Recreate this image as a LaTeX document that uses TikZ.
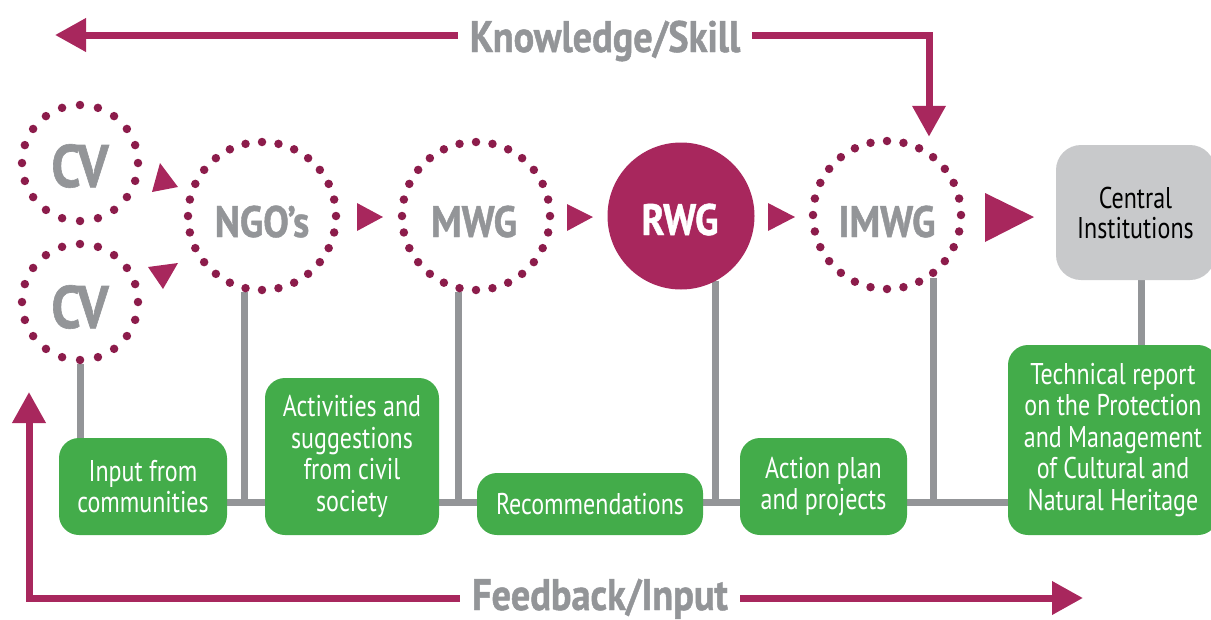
\documentclass[tikz,border=0pt]{standalone}
\usepackage{fontspec}
\setmainfont{PT Sans}[FakeStretch=0.8]
\newfontfamily\labfont{PT Sans}[FakeStretch=0.87,BoldFeatures={FakeBold=1}]
\usetikzlibrary{arrows.meta,backgrounds,calc}
\definecolor{mag}{RGB}{168,39,93}
\definecolor{dotc}{RGB}{140,28,75}
\definecolor{gtext}{RGB}{147,149,152}
\definecolor{grn}{RGB}{67,172,74}
\definecolor{lgray}{RGB}{200,201,203}
\begin{document}
\begin{tikzpicture}[x=1pt,y=-1pt,
 ring/.style={circle,minimum size=148pt,inner sep=0pt,draw=dotc,line width=8.5pt,line cap=round,dash pattern=on 0pt off 16.606pt},
 smallring/.style={ring,minimum size=116pt,dash pattern=on 0pt off 18.22pt},
 biglab/.style={font=\labfont\bfseries\fontsize{44}{44}\selectfont,text=gtext,anchor=base,inner sep=0pt},
 cvlab/.style={biglab,font=\labfont\bfseries\fontsize{60}{60}\selectfont},
 gbox/.style={fill=grn,rounded corners=20pt,text=white,align=center,font=\fontsize{30}{31.5}\selectfont,inner sep=0pt},
 bus/.style={draw=gtext,line width=7pt},
 magline/.style={draw=mag,line width=7pt},
 tip/.style={-{Triangle[length=31pt,width=32pt]}},
 tri/.style={fill=mag}]
\useasboundingbox (0,0) rectangle (1211,619);
% circles
\node[smallring] (cv1) at (80,163) {};
\node[smallring] (cv2) at (80,302) {};
\node[ring] (ngo) at (262,216) {};
\node[ring] (mwg) at (476,216) {};
\node[circle,fill=mag,minimum size=147pt,inner sep=0pt] (rwg) at (681,216) {};
\node[ring] (imwg) at (887,215) {};
\node[fill=lgray,rounded corners=25pt,minimum width=159pt,minimum height=135pt,inner sep=0pt,align=center,font=\fontsize{30}{30}\selectfont] (cent) at (1135.5,212.5) {Central\\Institutions};
% labels
\node[cvlab] (cv1t) at (80,187) {CV};
\node[cvlab] (cv2t) at (80,328) {CV};
\node[biglab] (ngot) at (262,237) {NGO’s};
\node[biglab] (mwgt) at (474,237) {MWG};
\node[biglab,text=white] (rwgt) at (680,235) {RWG};
\node[biglab] (imwgt) at (887,237) {IMWG};
% green boxes
\node[gbox,minimum width=168pt,minimum height=97pt] (inp) at (143,486.5) {Input from\\communities};
\node[gbox,minimum width=174pt,minimum height=157pt] (act) at (352,456.5) {Activities and\\suggestions\\from civil\\society};
\node[gbox,minimum width=226pt,minimum height=62pt] (rec) at (590,504) {Recommendations};
\node[gbox,minimum width=167pt,minimum height=97pt] (act2) at (823.5,486.5) {Action plan\\and projects};
\node[gbox,minimum width=210pt,minimum height=190pt] (tech) at (1113,440) {Technical report\\on the Protection\\and Management\\of Cultural and\\Natural Heritage};
% gray connectors
\coordinate (busy) at (0,502);
\begin{scope}[on background layer]
\draw[bus] (inp.center |- busy) -- (tech.center |- busy);
\draw[bus] (cv2.south) -- (cv2.south |- inp.north);
\draw[bus] (ngo.-103) -- (ngo.-103 |- busy);
\draw[bus] (mwg.-103) -- (mwg.-103 |- busy);
\draw[bus] (rwg.-62) -- (rwg.-62 |- busy);
\draw[bus] (imwg.-54) -- (imwg.-54 |- busy);
\draw[bus] ([xshift=5.5pt]cent.south) -- ([xshift=5.5pt]cent.south |- tech.north);
\end{scope}
% small triangles
\fill[tri] (160,163) -- (178,187) -- (152,192) -- cycle;
\fill[tri] (148,267) -- (178,263) -- (163,289) -- cycle;
\fill[tri] (357,203) -- (383,217) -- (357,231) -- cycle;
\fill[tri] (567,204) -- (593,217) -- (567,231) -- cycle;
\fill[tri] (768,203) -- (795,217) -- (768,231) -- cycle;
\fill[tri] (985,193) -- (1034,217) -- (985,242) -- cycle;
% top / bottom arrows
\node[biglab,inner xsep=12pt] (know) at (605,52) {Knowledge/Skill};
\node[biglab,inner xsep=12pt] (feed) at (600,610) {Feedback/Input};
\coordinate (kL) at (55,35);
\coordinate (kC) at (929,35);
\coordinate (fC) at (29,598);
\coordinate (fL) at (29,392);
\coordinate (fR) at (1083,598);
\draw[magline,tip] (know.west |- kL) -- (kL);
\draw[magline,tip] (know.east |- kL) -- (kC) -- (kC |- imwg.north);
\draw[magline,tip] (feed.west |- fC) -- (fC) -- (fL);
\draw[magline,tip] (feed.east |- fC) -- (fR);
\end{tikzpicture}
\end{document}
